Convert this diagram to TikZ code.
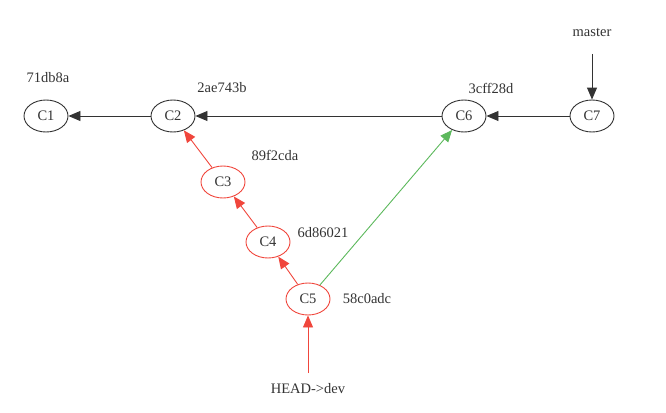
\documentclass[tikz,border=0pt]{standalone}
\usepackage{fontspec}
\setmainfont{Liberation Serif}
\usetikzlibrary{shapes.geometric,arrows.meta}
\definecolor{myred}{HTML}{F0463C}
\definecolor{mygreen}{HTML}{5CB85C}
\definecolor{mygray}{HTML}{333333}
\tikzset{
  commit/.style={ellipse, draw=mygray, line width=0.9pt, minimum width=44pt, minimum height=32pt, inner sep=0pt, font=\fontsize{14.5}{16}\selectfont, text=mygray},
  redcommit/.style={commit, draw=myred},
  lbl/.style={font=\fontsize{14.5}{16}\selectfont, text=mygray, inner sep=0pt},
  blk/.style={draw=mygray, line width=0.9pt, -{Triangle[length=12pt,width=10pt]}},
  redarr/.style={draw=myred, line width=0.9pt, -{Triangle[length=12pt,width=10pt]}},
  grnarr/.style={draw=mygreen, line width=0.9pt, -{Triangle[length=12pt,width=10pt]}},
}
\begin{document}
\begin{tikzpicture}[x=1pt,y=-1pt]
\useasboundingbox (0,0) rectangle (666,412);
\node[commit] (c1) at (46,116) {C1};
\node[commit] (c2) at (173,116) {C2};
\node[redcommit] (c3) at (223,182) {C3};
\node[redcommit] (c4) at (268,242) {C4};
\node[redcommit] (c5) at (308,299) {C5};
\node[commit] (c6) at (464,116) {C6};
\node[commit] (c7) at (592,116) {C7};
\node[lbl] (l1) at (48,78) {71db8a};
\node[lbl] (l2) at (222,88) {2ae743b};
\node[lbl] (l3) at (275,155) {89f2cda};
\node[lbl] (l4) at (323,233) {6d86021};
\node[lbl] (l5) at (367,299) {58c0adc};
\node[lbl] (l6) at (491,88) {3cff28d};
\node[lbl] (master) at (592,32) {master};
\node[lbl] (head) at (308,389) {HEAD->dev};
\coordinate (ms) at (592,54);
\coordinate (hs) at (308,373);
\draw[blk] (c2) -- (c1);
\draw[blk] (c6) -- (c2);
\draw[blk] (c7) -- (c6);
\draw[blk] (ms) -- (c7);
\draw[redarr] (c3) -- (c2);
\draw[redarr] (c4) -- (c3);
\draw[redarr] (c5) -- (c4);
\draw[redarr] (hs) -- (c5);
\draw[grnarr] (c5) -- (c6);
\end{tikzpicture}
\end{document}
